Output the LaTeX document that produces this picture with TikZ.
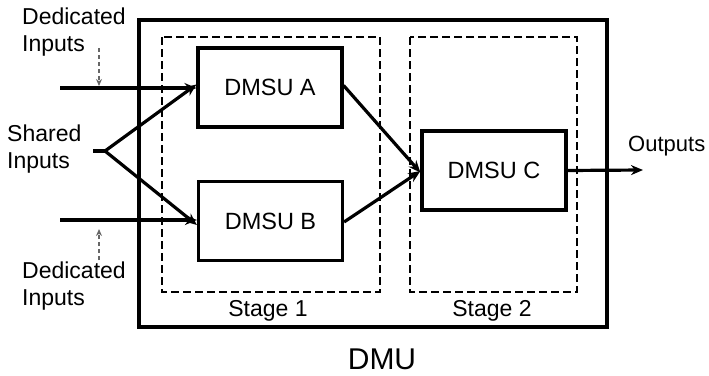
\documentclass[tikz,border=0pt]{standalone}
\usepackage{fontspec}
\setmainfont{Liberation Sans}
\usetikzlibrary{arrows.meta}
\begin{document}
\begin{tikzpicture}[x=1pt,y=-1pt,
  box/.style={draw,line width=3.2pt,minimum width=144pt,minimum height=79pt,inner sep=0pt,font=\fontsize{23.5}{27}\selectfont},
  stagebox/.style={draw,line width=2.8pt,dash pattern=on 8pt off 4pt},
  lbl/.style={font=\fontsize{23}{27}\selectfont,align=left,inner sep=0pt},
  flow/.style={line width=3.2pt,-{Stealth[length=12pt,width=10pt]}},
  ded/.style={draw=black!60,line width=1.5pt,dash pattern=on 4pt off 3pt,-{Stealth[length=7pt,width=6pt]}}]
\useasboundingbox (0,0) rectangle (709,375);
% outer DMU box
\draw[line width=3.2pt] (139,20) rectangle (607,327);
% stage boxes
\draw[stagebox] (162,37) rectangle (380,292);
\draw[stagebox] (410,37) rectangle (577,292);
% DMSU boxes
\node[box] (A) at (270,87.5) {DMSU A};
\node[box] (B) at (270.5,221) {DMSU B};
\node[box] (C) at (494,170.5) {DMSU C};
% labels
\node[lbl,anchor=north west] (dedtop) at (22,8) {Dedicated\\Inputs};
\node[lbl,anchor=north west] (dedbot) at (22,262) {Dedicated\\Inputs};
\node[lbl,anchor=north west] (shared) at (7,125) {Shared\\Inputs};
\node[lbl,anchor=west,font=\fontsize{22}{26}\selectfont] (out) at (628,146) {Outputs};
\node[lbl] (st1) at (268,311) {Stage 1};
\node[lbl] (st2) at (492,311) {Stage 2};
\node[font=\fontsize{30}{34}\selectfont,inner sep=0pt] (dmu) at (382,359) {DMU};
% coordinates
\coordinate (inA) at (60,88);
\coordinate (inB) at (60,220);
\coordinate (sh0) at (93,151);
\coordinate (sh1) at (105,151);
\coordinate (dt0) at (99,48);
\coordinate (dt1) at (99,86);
\coordinate (db0) at (99,260);
\coordinate (db1) at (99,229);
\coordinate (outE) at (643,170);
% connectors
\draw[flow] (inA) -- (A.west |- inA);
\draw[flow] (inB) -- (B.west |- inB);
\draw[line width=3.2pt,line join=miter] (sh0) -- (sh1);
\draw[flow] (sh1) -- ([yshift=3pt]A.west);
\draw[flow] (sh1) -- ([yshift=-4pt]B.west);
\draw[flow] ([yshift=2pt]A.east) -- ([yshift=-2pt]C.west);
\draw[flow] ([yshift=-1pt]B.east) -- ([yshift=-0.5pt]C.west);
\draw[flow] (C.east) -- (outE);
\draw[ded] (dt0) -- (dt1);
\draw[ded] (db0) -- (db1);
\end{tikzpicture}
\end{document}
